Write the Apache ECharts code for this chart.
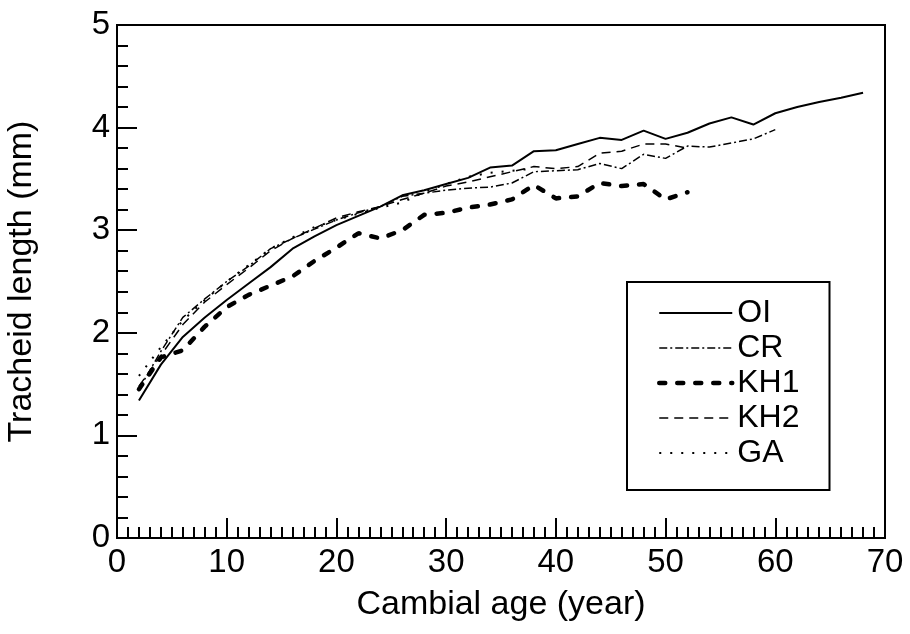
<!DOCTYPE html>
<html>
<head>
<meta charset="utf-8">
<script src="https://cdn.jsdelivr.net/npm/echarts@6/dist/echarts.min.js"></script>
<style>html,body{margin:0;padding:0;background:#fff}#c{width:910px;height:634px}</style>
</head>
<body>
<div id="c"></div>
<script>
const agesOI = [2,4,6,8,10,12,14,16,18,20,22,24,26,28,30,32,34,36,38,40,42,44,46,48,50,52,54,56,58,60,62,64,66,68];
const valOI  = [1.34,1.69,1.96,2.15,2.32,2.48,2.64,2.82,2.94,3.05,3.14,3.23,3.34,3.39,3.45,3.51,3.61,3.63,3.77,3.78,3.84,3.90,3.88,3.97,3.89,3.95,4.04,4.10,4.03,4.14,4.20,4.25,4.29,4.34];
const agesCR = [2,4,6,8,10,12,14,16,18,20,22,24,26,28,30,32,34,36,38,40,42,44,46,48,50,52,54,56,58,60];
const valCR  = [1.45,1.82,2.15,2.33,2.50,2.65,2.82,2.92,3.01,3.10,3.17,3.23,3.33,3.36,3.39,3.41,3.42,3.46,3.57,3.58,3.59,3.65,3.60,3.74,3.70,3.82,3.81,3.85,3.89,3.98];
const agesKH1 = [2,4,6,8,10,12,14,16,18,20,22,24,26,28,30,32,34,36,38,40,42,44,46,48,50,52];
const valKH1  = [1.45,1.76,1.83,2.06,2.25,2.37,2.46,2.55,2.70,2.83,2.97,2.92,3.00,3.15,3.17,3.22,3.25,3.30,3.44,3.31,3.33,3.46,3.43,3.45,3.30,3.37];
const agesKH2 = [2,4,6,8,10,12,14,16,18,20,22,24,26,28,30,32,34,36,38,40,42,44,46,48,50,52];
const valKH2  = [1.48,1.78,2.08,2.30,2.47,2.63,2.80,2.92,3.02,3.12,3.18,3.23,3.30,3.36,3.43,3.47,3.52,3.57,3.62,3.60,3.62,3.75,3.77,3.84,3.84,3.80];
const agesGA = [2,4,6,8,10,12,14,16,18,20,22,24,26,28,30,32,34,36,38];
const valGA  = [1.58,1.86,2.12,2.32,2.50,2.66,2.82,2.93,3.03,3.10,3.16,3.22,3.27,3.37,3.45,3.52,3.56,3.58,3.60];
const xTicks = [0,10,20,30,40,50,60,70];
const yTicks = [0,1,2,3,4,5];
const names = ['OI', 'CR', 'KH1', 'KH2', 'GA'];

const pair = (a, v) => a.map((x, i) => [x, v[i]]);
const FONT = 'Liberation Sans, Arial, sans-serif';

const styles = {
  OI:  {width: 2, type: 'solid'},
  CR:  {width: 1.5, type: [8, 3, 2, 3]},
  KH1: {width: 4.5, type: [6, 12], cap: 'round'},
  KH2: {width: 1.5, type: [9, 6]},
  GA:  {width: 2, type: [2, 9]}
};
const dataMap = {
  OI: pair(agesOI, valOI), CR: pair(agesCR, valCR), KH1: pair(agesKH1, valKH1),
  KH2: pair(agesKH2, valKH2), GA: pair(agesGA, valGA)
};

const chart = echarts.init(document.getElementById('c'), null, {renderer: 'canvas'});

const axisCommon = {
  axisLine: {show: true, onZero: false, lineStyle: {color: '#000', width: 2}},
  axisTick: {show: true, inside: true, length: 20, lineStyle: {color: '#000', width: 2}},
  minorTick: {show: true, length: 11, lineStyle: {color: '#000', width: 2}},
  splitLine: {show: false},
  minorSplitLine: {show: false},
  axisLabel: {color: '#000', fontSize: 33, fontFamily: FONT},
  nameTextStyle: {color: '#000', fontSize: 34, fontFamily: FONT}
};

chart.setOption({
  animation: false,
  backgroundColor: '#fff',
  grid: {left: 117, right: 25, top: 25, bottom: 96, show: true, borderColor: '#000', borderWidth: 2,
         backgroundColor: 'transparent', containLabel: false, outerBoundsMode: 'none'},
  xAxis: Object.assign({}, axisCommon, {
    type: 'value', min: xTicks[0], max: xTicks[xTicks.length - 1], interval: 10,
    name: 'Cambial age (year)', nameLocation: 'middle', nameGap: 50,
    minorTick: Object.assign({}, axisCommon.minorTick, {splitNumber: 10}),
    axisLabel: Object.assign({}, axisCommon.axisLabel, {margin: 8})
  }),
  yAxis: Object.assign({}, axisCommon, {
    type: 'value', min: yTicks[0], max: yTicks[yTicks.length - 1], interval: 1,
    name: 'Tracheid length (mm)', nameLocation: 'middle', nameGap: 78,
    minorTick: Object.assign({}, axisCommon.minorTick, {splitNumber: 5}),
    axisLabel: Object.assign({}, axisCommon.axisLabel, {margin: 7})
  }),
  legend: {
    orient: 'vertical', left: 627, top: 282,
    padding: [15, 30, 21, 30],
    borderColor: '#000', borderWidth: 2,
    itemWidth: 73, itemHeight: 14, itemGap: 3,
    itemStyle: {color: 'rgba(0,0,0,0)', borderWidth: 0, opacity: 0},
    textStyle: {color: '#000', fontSize: 32, fontFamily: FONT, lineHeight: 32},
    data: names.map(n => ({name: n, lineStyle: {width: styles[n].width, type: styles[n].type, color: '#000', opacity: 1}}))
  },
  series: names.map(n => ({
    name: n, type: 'line', data: dataMap[n], symbol: 'none', showSymbol: false, smooth: false,
    lineStyle: Object.assign({color: '#000'}, styles[n]),
    itemStyle: {color: '#000'},
    animation: false
  }))
});
</script>
</body>
</html>
